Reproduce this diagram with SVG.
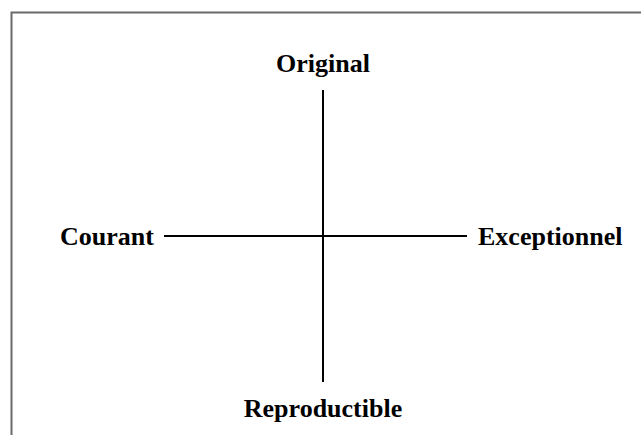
<svg xmlns="http://www.w3.org/2000/svg" width="641" height="435" viewBox="0 0 641 435">
<style>
.lbl{font-family:"Liberation Serif","Times New Roman",serif;font-weight:bold;font-size:26px;fill:#000}
.ax{stroke:#000;stroke-width:2;fill:none}
</style>
<rect width="641" height="435" fill="#fff"/>
<path d="M11.5,435 V12.5 H641" fill="none" stroke="#6a6a6a" stroke-width="2"/>
<g id="connectors">
<line class="ax" x1="323" y1="90" x2="323" y2="382"/>
<line class="ax" x1="164" y1="236" x2="467" y2="236"/>
</g>
<g id="original"><text class="lbl" x="323" y="72" text-anchor="middle">Original</text></g>
<g id="reproductible"><text class="lbl" x="323" y="417" text-anchor="middle">Reproductible</text></g>
<g id="courant"><text class="lbl" x="60" y="245">Courant</text></g>
<g id="exceptionnel"><text class="lbl" x="478" y="245">Exceptionnel</text></g>
</svg>
